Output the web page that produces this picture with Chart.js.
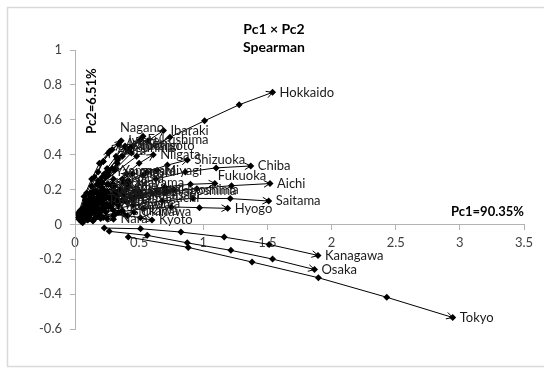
<!DOCTYPE html>
<html>
<head>
<meta charset="utf-8">
<script src="https://cdn.jsdelivr.net/npm/chart.js@4.4.1/dist/chart.umd.min.js"></script>
<style>
  html, body { margin: 0; padding: 0; background: #fff; }
  canvas { display: block; }
</style>
</head>
<body>
<canvas id="pcChart" width="544" height="371"></canvas>
<script>
// ---- data: six time points per prefecture (Pc1, Pc2 scores) ----
const prefectures = [
  "Hokkaido", "Aomori", "Iwate", "Miyagi", "Akita", "Yamagata", "Fukushima",
  "Ibaraki", "Tochigi", "Gunma", "Saitama", "Chiba", "Tokyo", "Kanagawa",
  "Niigata", "Toyama", "Ishikawa", "Fukui", "Yamanashi", "Nagano", "Gifu",
  "Shizuoka", "Aichi", "Mie", "Shiga", "Kyoto", "Osaka", "Hyogo", "Nara",
  "Wakayama", "Tottori", "Shimane", "Okayama", "Hiroshima", "Yamaguchi",
  "Tokushima", "Kagawa", "Ehime", "Kochi", "Fukuoka", "Saga", "Nagasaki",
  "Kumamoto", "Oita", "Miyazaki", "Kagoshima", "Okinawa"
];

const pc1 = [
  [0.21, 0.48, 0.74, 1.01, 1.28, 1.54],    // Hokkaido
  [0.03, 0.07, 0.13, 0.19, 0.26, 0.34],    // Aomori
  [0.04, 0.09, 0.15, 0.22, 0.29, 0.36],    // Iwate
  [0.09, 0.20, 0.31, 0.42, 0.53, 0.64],    // Miyagi
  [0.03, 0.08, 0.13, 0.18, 0.22, 0.27],    // Akita
  [0.04, 0.10, 0.16, 0.21, 0.26, 0.31],    // Yamagata
  [0.07, 0.15, 0.24, 0.33, 0.42, 0.51],    // Fukushima
  [0.09, 0.20, 0.32, 0.44, 0.57, 0.69],    // Ibaraki
  [0.06, 0.13, 0.21, 0.29, 0.37, 0.45],    // Tochigi
  [0.05, 0.12, 0.19, 0.26, 0.33, 0.40],    // Gunma
  [0.20, 0.45, 0.68, 0.92, 1.21, 1.51],    // Saitama
  [0.18, 0.40, 0.63, 0.86, 1.10, 1.37],    // Chiba
  [0.415, 0.883, 1.38, 1.897, 2.43, 2.944],// Tokyo
  [0.228, 0.511, 0.826, 1.163, 1.513, 1.894], // Kanagawa
  [0.09, 0.19, 0.29, 0.40, 0.50, 0.61],    // Niigata
  [0.04, 0.09, 0.15, 0.20, 0.25, 0.30],    // Toyama
  [0.05, 0.11, 0.17, 0.24, 0.30, 0.37],    // Ishikawa
  [0.03, 0.07, 0.11, 0.15, 0.18, 0.22],    // Fukui
  [0.03, 0.08, 0.12, 0.17, 0.21, 0.26],    // Yamanashi
  [0.06, 0.14, 0.23, 0.33, 0.43, 0.53],    // Nagano
  [0.06, 0.14, 0.22, 0.29, 0.37, 0.45],    // Gifu
  [0.11, 0.25, 0.41, 0.56, 0.72, 0.876],   // Shizuoka
  [0.20, 0.45, 0.70, 0.95, 1.22, 1.52],    // Aichi
  [0.06, 0.13, 0.20, 0.27, 0.35, 0.42],    // Mie
  [0.05, 0.10, 0.16, 0.21, 0.27, 0.33],    // Shiga
  [0.09, 0.20, 0.31, 0.41, 0.51, 0.60],    // Kyoto
  [0.267, 0.563, 0.875, 1.215, 1.54, 1.867], // Osaka
  [0.16, 0.34, 0.53, 0.75, 0.97, 1.19],    // Hyogo
  [0.05, 0.10, 0.15, 0.20, 0.25, 0.30],    // Nara
  [0.04, 0.09, 0.14, 0.18, 0.23, 0.28],    // Wakayama
  [0.03, 0.06, 0.10, 0.13, 0.17, 0.20],    // Tottori
  [0.03, 0.07, 0.11, 0.16, 0.20, 0.24],    // Shimane
  [0.05, 0.11, 0.18, 0.25, 0.31, 0.38],    // Okayama
  [0.11, 0.24, 0.37, 0.50, 0.64, 0.77],    // Hiroshima
  [0.06, 0.14, 0.22, 0.29, 0.37, 0.44],    // Yamaguchi
  [0.04, 0.09, 0.14, 0.20, 0.25, 0.30],    // Tokushima
  [0.05, 0.11, 0.16, 0.22, 0.28, 0.34],    // Kagawa
  [0.06, 0.14, 0.22, 0.30, 0.38, 0.46],    // Ehime
  [0.03, 0.08, 0.12, 0.17, 0.21, 0.26],    // Kochi
  [0.14, 0.31, 0.50, 0.70, 0.90, 1.09],    // Fukuoka
  [0.04, 0.09, 0.14, 0.18, 0.23, 0.28],    // Saga
  [0.07, 0.16, 0.25, 0.34, 0.43, 0.52],    // Nagasaki
  [0.05, 0.11, 0.18, 0.25, 0.32, 0.39],    // Kumamoto
  [0.05, 0.12, 0.19, 0.26, 0.33, 0.40],    // Oita
  [0.05, 0.11, 0.17, 0.24, 0.30, 0.36],    // Miyazaki
  [0.10, 0.22, 0.34, 0.47, 0.60, 0.72],    // Kagoshima
  [0.06, 0.14, 0.22, 0.30, 0.38, 0.46]     // Okinawa
];

const pc2 = [
  [0.24, 0.39, 0.50, 0.594, 0.686, 0.757],     // Hokkaido
  [0.07, 0.16, 0.26, 0.35, 0.41, 0.46],        // Aomori
  [0.08, 0.18, 0.27, 0.36, 0.43, 0.48],        // Iwate
  [0.06, 0.13, 0.19, 0.24, 0.28, 0.31],        // Miyagi
  [0.06, 0.14, 0.22, 0.30, 0.36, 0.42],        // Akita
  [0.06, 0.13, 0.19, 0.24, 0.28, 0.31],        // Yamagata
  [0.09, 0.18, 0.27, 0.35, 0.42, 0.485],       // Fukushima
  [0.11, 0.22, 0.32, 0.41, 0.48, 0.538],       // Ibaraki
  [0.07, 0.16, 0.24, 0.32, 0.39, 0.45],        // Tochigi
  [0.07, 0.15, 0.23, 0.31, 0.38, 0.44],        // Gunma
  [0.07, 0.11, 0.135, 0.149, 0.148, 0.134],    // Saitama
  [0.12, 0.20, 0.26, 0.30, 0.324, 0.335],      // Chiba
  [-0.073, -0.132, -0.216, -0.306, -0.418, -0.534], // Tokyo
  [-0.021, -0.025, -0.044, -0.073, -0.115, -0.178], // Kanagawa
  [0.08, 0.16, 0.23, 0.29, 0.35, 0.40],        // Niigata
  [0.05, 0.10, 0.15, 0.19, 0.23, 0.26],        // Toyama
  [0.02, 0.04, 0.06, 0.07, 0.08, 0.08],        // Ishikawa
  [0.04, 0.08, 0.12, 0.15, 0.18, 0.20],        // Fukui
  [0.06, 0.12, 0.18, 0.23, 0.27, 0.30],        // Yamanashi
  [0.09, 0.19, 0.29, 0.37, 0.44, 0.506],       // Nagano
  [0.06, 0.12, 0.17, 0.22, 0.26, 0.29],        // Gifu
  [0.10, 0.18, 0.25, 0.30, 0.34, 0.369],       // Shizuoka
  [0.09, 0.14, 0.18, 0.205, 0.222, 0.234],     // Aichi
  [0.04, 0.09, 0.13, 0.17, 0.20, 0.22],        // Mie
  [0.03, 0.07, 0.10, 0.13, 0.15, 0.17],        // Shiga
  [0.03, 0.05, 0.055, 0.05, 0.038, 0.025],     // Kyoto
  [-0.04, -0.063, -0.106, -0.149, -0.199, -0.259], // Osaka
  [0.04, 0.07, 0.09, 0.10, 0.096, 0.092],      // Hyogo
  [0.015, 0.025, 0.03, 0.033, 0.032, 0.03],    // Nara
  [0.03, 0.05, 0.07, 0.09, 0.11, 0.12],        // Wakayama
  [0.03, 0.06, 0.09, 0.11, 0.13, 0.14],        // Tottori
  [0.04, 0.08, 0.11, 0.14, 0.16, 0.18],        // Shimane
  [0.05, 0.10, 0.15, 0.19, 0.22, 0.24],        // Okayama
  [0.05, 0.10, 0.14, 0.17, 0.19, 0.20],        // Hiroshima
  [0.03, 0.07, 0.10, 0.12, 0.14, 0.15],        // Yamaguchi
  [0.04, 0.08, 0.12, 0.15, 0.18, 0.20],        // Tokushima
  [0.02, 0.05, 0.07, 0.09, 0.10, 0.11],        // Kagawa
  [0.04, 0.08, 0.12, 0.15, 0.17, 0.19],        // Ehime
  [0.05, 0.10, 0.14, 0.18, 0.21, 0.23],        // Kochi
  [0.09, 0.15, 0.19, 0.215, 0.23, 0.235],      // Fukuoka
  [0.03, 0.07, 0.10, 0.13, 0.15, 0.16],        // Saga
  [0.03, 0.07, 0.11, 0.14, 0.16, 0.17],        // Nagasaki
  [0.08, 0.17, 0.25, 0.32, 0.39, 0.45],        // Kumamoto
  [0.03, 0.06, 0.08, 0.10, 0.12, 0.13],        // Oita
  [0.04, 0.08, 0.12, 0.15, 0.17, 0.19],        // Miyazaki
  [0.05, 0.09, 0.13, 0.16, 0.18, 0.19],        // Kagoshima
  [0.01, 0.02, 0.04, 0.05, 0.06, 0.07]         // Okinawa
];

const xTicks = [0, 0.5, 1, 1.5, 2, 2.5, 3, 3.5];
const yTicks = [-0.6, -0.4, -0.2, 0, 0.2, 0.4, 0.6, 0.8, 1];

const FONT = "Lato, 'Open Sans', sans-serif";
const AXIS_GREY = "#b3b3b3";

// a couple of names sit above their end point instead of to the right
const labelShift = { Nagano: [-30, -8], Fukuoka: [-4, -8] };

const datasets = prefectures.map((name, i) => ({
  label: name,
  data: pc1[i].map((x, k) => ({ x: x, y: pc2[i][k] })),
  showLine: true,
  borderColor: "#000",
  borderWidth: 1,
  backgroundColor: "#000",
  pointStyle: "rectRot",
  pointRadius: 3.5,
  pointBorderWidth: 0
}));

// ---- plugins ----
const frame = {
  id: "frame",
  beforeDraw(chart) {
    const ctx = chart.ctx;
    ctx.save();
    ctx.fillStyle = "#fff";
    ctx.fillRect(0, 0, chart.width, chart.height);
    ctx.strokeStyle = "#d9d9d9";
    ctx.lineWidth = 1.5;
    ctx.strokeRect(7.5, 7.5, chart.width + 10, chart.height - 12);
    ctx.restore();
  }
};

const arrowsAndNames = {
  id: "arrowsAndNames",
  afterDatasetsDraw(chart) {
    const ctx = chart.ctx;
    ctx.save();
    // open arrow head on the last segment of every path
    chart.data.datasets.forEach((ds, i) => {
      const pts = chart.getDatasetMeta(i).data;
      const a = pts[pts.length - 2], b = pts[pts.length - 1];
      const ang = Math.atan2(b.y - a.y, b.x - a.x);
      const len = 7, spread = 0.5;
      ctx.strokeStyle = "#000";
      ctx.lineWidth = 1;
      ctx.beginPath();
      ctx.moveTo(b.x - len * Math.cos(ang - spread), b.y - len * Math.sin(ang - spread));
      ctx.lineTo(b.x, b.y);
      ctx.lineTo(b.x - len * Math.cos(ang + spread), b.y - len * Math.sin(ang + spread));
      ctx.stroke();
    });
    // prefecture names at the end points
    ctx.font = "13px " + FONT;
    ctx.fillStyle = "#1a1a1a";
    ctx.textBaseline = "middle";
    ctx.textAlign = "left";
    chart.data.datasets.forEach((ds, i) => {
      const pts = chart.getDatasetMeta(i).data;
      const end = pts[pts.length - 1];
      const s = labelShift[ds.label] || [0, 0];
      ctx.fillText(ds.label, end.x + 7 + s[0], end.y + s[1]);
    });
    ctx.restore();
  }
};

const captions = {
  id: "captions",
  afterDraw(chart) {
    const ctx = chart.ctx;
    const area = chart.chartArea;
    ctx.save();
    ctx.fillStyle = "#000";
    ctx.font = "bold 14px " + FONT;
    ctx.textAlign = "center";
    ctx.textBaseline = "middle";
    ctx.fillText("Pc1 × Pc2", chart.width / 2 + 2, 29);
    ctx.fillText("Spearman", chart.width / 2 + 2, 47);

    ctx.font = "bold 13px " + FONT;
    ctx.textAlign = "right";
    ctx.fillText("Pc1=90.35%", area.right, 212);

    ctx.translate(92, 101);
    ctx.rotate(-Math.PI / 2);
    ctx.textAlign = "center";
    ctx.fillText("Pc2=6.51%", 0, 0);
    ctx.restore();
  }
};

// ---- chart ----
new Chart(document.getElementById("pcChart"), {
  type: "scatter",
  data: { datasets: datasets },
  options: {
    responsive: false,
    animation: false,
    devicePixelRatio: 1,
    layout: { padding: { left: 30, right: 20, top: 50, bottom: 42 } },
    plugins: { legend: { display: false }, tooltip: { enabled: false } },
    scales: {
      x: {
        type: "linear",
        min: 0, max: 3.5,
        position: { y: 0 },
        afterBuildTicks: s => { s.ticks = xTicks.map(v => ({ value: v })); },
        ticks: {
          font: { family: FONT, size: 13 }, color: "#404040", padding: 6,
          maxRotation: 0,
          callback: v => String(v)
        },
        grid: { drawOnChartArea: false, tickLength: 5, color: AXIS_GREY },
        border: { color: AXIS_GREY }
      },
      y: {
        type: "linear",
        min: -0.6, max: 1,
        afterBuildTicks: s => { s.ticks = yTicks.map(v => ({ value: v })); },
        afterFit: s => { s.width = 45; },
        ticks: {
          font: { family: FONT, size: 13 }, color: "#404040", padding: 8,
          callback: v => String(Math.round(v * 10) / 10)
        },
        grid: { drawOnChartArea: false, tickLength: 5, color: AXIS_GREY },
        border: { color: AXIS_GREY }
      }
    }
  },
  plugins: [frame, arrowsAndNames, captions]
});
</script>
</body>
</html>
